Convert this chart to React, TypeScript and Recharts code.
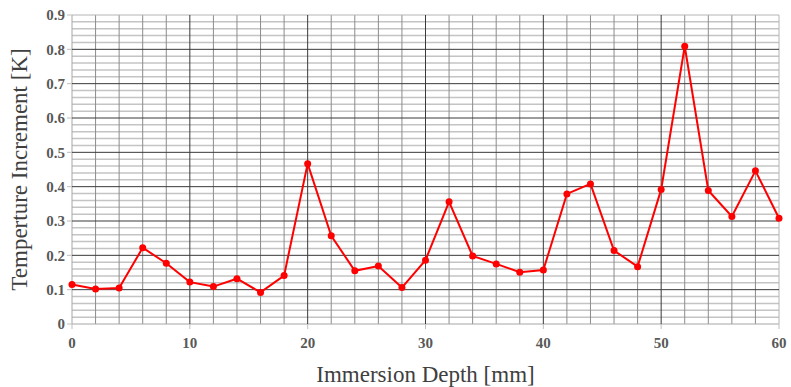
import React from 'react';
import { LineChart, Line, XAxis, YAxis, ReferenceLine, Label } from 'recharts';

const depths = [0, 2, 4, 6, 8, 10, 12, 14, 16, 18, 20, 22, 24, 26, 28, 30, 32, 34, 36, 38, 40, 42, 44, 46, 48, 50, 52, 54, 56, 58, 60];
const increments = [0.115, 0.102, 0.105, 0.222, 0.177, 0.122, 0.109, 0.132, 0.092, 0.141, 0.467, 0.257, 0.155, 0.169, 0.106, 0.186, 0.356, 0.198, 0.175, 0.151, 0.157, 0.379, 0.408, 0.214, 0.167, 0.392, 0.809, 0.389, 0.313, 0.446, 0.308];

const xTicks = [0, 10, 20, 30, 40, 50, 60];
const yTicks = [0, 0.1, 0.2, 0.3, 0.4, 0.5, 0.6, 0.7, 0.8, 0.9];
// minor grid: every 0.02 K and every 2 mm
const yMinor = Array.from({ length: 46 }, (_, i) => i).filter((i) => i % 5 !== 0).map((i) => i / 50);
const xMinor = depths.filter((d) => d % 10 !== 0);
const xMajorInner = [10, 20, 30, 40, 50];
const yMajorInner = [0.1, 0.2, 0.3, 0.4, 0.5, 0.6, 0.7, 0.8];

const data = depths.map((d, i) => ({ depth: d, value: increments[i] }));

const FONT = '"Liberation Serif", "Times New Roman", serif';
const tickStyle = { fill: '#595959', fontSize: 15, fontWeight: 700, fontFamily: FONT };
const titleStyle = { fill: '#404040', fontSize: 23, fontFamily: FONT, textAnchor: 'middle' as const };

export default function App() {
  return (
    <div style={{ position: 'absolute', left: 0, top: 0, background: '#fff' }}>
      <LineChart width={791} height={387} data={data} margin={{ top: 15, right: 12, bottom: 0, left: 12 }}>
        {yMinor.map((v) => (
          <ReferenceLine key={'hm' + v} y={v} stroke="#c4c4c4" strokeWidth={1.5} />
        ))}
        {xMinor.map((v) => (
          <ReferenceLine key={'vm' + v} x={v} stroke="#8c8c8c" strokeWidth={1} />
        ))}
        <ReferenceLine y={0} stroke="#a6a6a6" />
        <ReferenceLine y={0.9} stroke="#b4b4b4" />
        <ReferenceLine x={0} stroke="#a6a6a6" />
        <ReferenceLine x={60} stroke="#b4b4b4" />
        {yMajorInner.map((v) => (
          <ReferenceLine key={'hM' + v} y={v} stroke="#3a3a3a" strokeWidth={1} />
        ))}
        {xMajorInner.map((v) => (
          <ReferenceLine key={'vM' + v} x={v} stroke="#3a3a3a" strokeWidth={1} />
        ))}
        <XAxis
          dataKey="depth"
          type="number"
          domain={[0, 60]}
          ticks={xTicks}
          height={63}
          tick={tickStyle}
          tickLine={{ stroke: '#bfbfbf' }}
          tickSize={5}
          axisLine={false}
          tickMargin={8}
        >
          <Label value="Immersion Depth [mm]" position="insideBottom" offset={5} style={titleStyle} />
        </XAxis>
        <YAxis
          type="number"
          domain={[0, 0.9]}
          ticks={yTicks}
          width={60}
          tick={tickStyle}
          tickLine={{ stroke: '#bfbfbf' }}
          tickSize={5}
          axisLine={false}
          tickFormatter={(v: number) => (v === 0 ? '0' : String(v))}
        >
          <Label value="Temperture Increment [K]" angle={-90} position="insideLeft" offset={7} style={titleStyle} />
        </YAxis>
        <Line
          type="linear"
          dataKey="value"
          stroke="#ff0000"
          strokeWidth={2}
          dot={{ r: 3.5, fill: '#ff0000', stroke: '#ff0000', strokeWidth: 0 }}
          isAnimationActive={false}
        />
      </LineChart>
    </div>
  );
}
